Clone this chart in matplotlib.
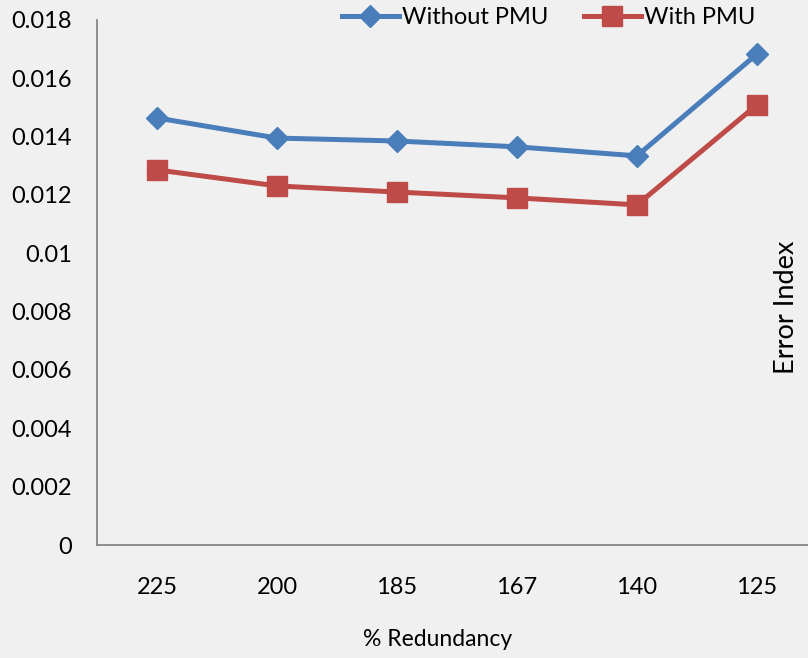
import matplotlib
matplotlib.use("Agg")
import matplotlib.pyplot as plt

redundancy = ["225", "200", "185", "167", "140", "125"]
without_pmu = [0.01464, 0.01395, 0.01385, 0.01365, 0.01334, 0.01683]
with_pmu = [0.01286, 0.01231, 0.01210, 0.01190, 0.01166, 0.01509]
y_ticks = [0, 0.002, 0.004, 0.006, 0.008, 0.01, 0.012, 0.014, 0.016, 0.018]

plt.rcParams["font.family"] = ["Lato", "DejaVu Sans"]
bg = "#f0f0f0"

fig = plt.figure(figsize=(8.08, 6.58), dpi=100, facecolor=bg)
ax = fig.add_axes([0.12, 0.1717, 0.8911, 0.798], facecolor=bg)

x = range(len(redundancy))
ax.plot(x, without_pmu, color="#4a7ebb", lw=3.6, marker="D", ms=11,
        label="Without PMU", clip_on=False)
ax.plot(x, with_pmu, color="#be4b48", lw=3.6, marker="s", ms=14,
        label="With PMU", clip_on=False)

ax.set_xlim(-0.5, 5.5)
ax.set_ylim(0, 0.018)
ax.set_yticks(y_ticks)
ax.set_yticklabels([f"{v:g}" for v in y_ticks])
ax.set_xticks(list(x))
ax.set_xticklabels(redundancy)
ax.tick_params(axis="y", length=0, pad=18, labelsize=17)
ax.tick_params(axis="x", length=0, pad=23, labelsize=17)

for s in ["top", "right"]:
    ax.spines[s].set_visible(False)
for s in ["left", "bottom"]:
    ax.spines[s].set_color("#868686")
    ax.spines[s].set_linewidth(1.3)

fig.text(0.541, 0.012, "% Redundancy", ha="center", va="bottom", fontsize=16.5)
fig.text(0.974, 0.533, "Error Index", rotation=90, ha="center", va="center", fontsize=19.5)

fig.legend(loc="center", bbox_to_anchor=(0.679, 0.973), ncol=2, frameon=False,
           fontsize=17, handlelength=2.4, handletextpad=0.15, columnspacing=1.5,
           borderpad=0)

fig.savefig("out.png", dpi=100, facecolor=bg)
